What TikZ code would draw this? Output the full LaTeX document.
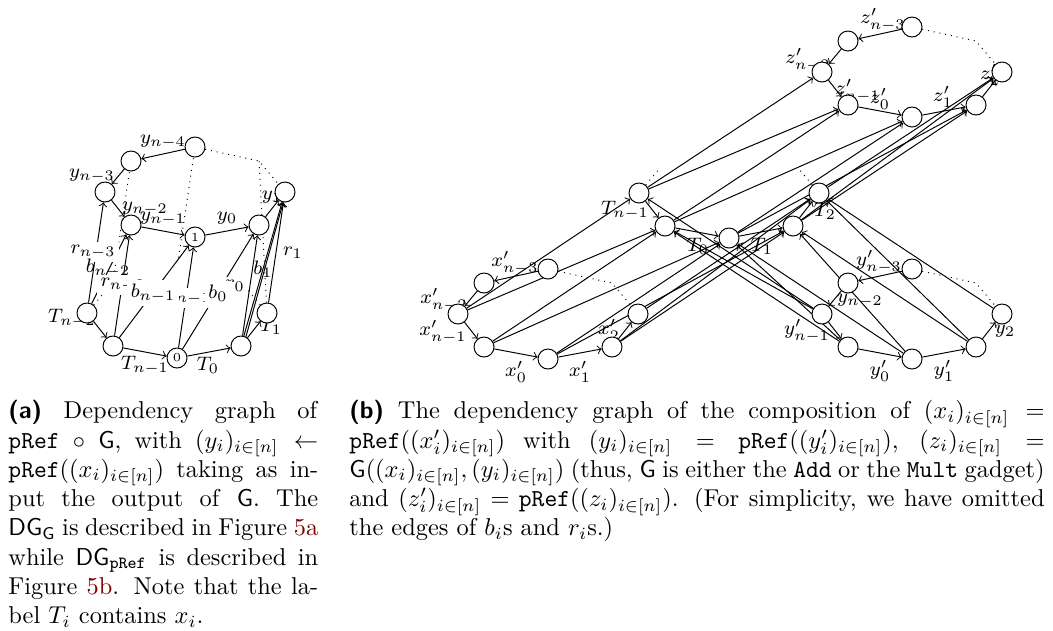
\documentclass[tikz,border=0pt]{standalone}
\usepackage{amsmath}
\definecolor{linkred}{rgb}{0.5,0,0}
\pgfdeclarelayer{fg}
\pgfsetlayers{main,fg}
\tikzset{
  vtx/.style={circle,draw,fill=white,minimum size=8.2pt,inner sep=0pt},
  ghost/.style={circle,minimum size=8.2pt,inner sep=0pt},
  lbl/.style={font=\footnotesize,inner sep=1pt},
  wlbl/.style={lbl,fill=white,inner sep=1.5pt},
  arr/.style={->},
  hid/.style={dotted}
}
\begin{document}
\begin{tikzpicture}[x=0.41pt,y=-0.41pt]
\useasboundingbox (0,0) rectangle (1053,630);

% ---------- nodes (foreground) ----------
\begin{pgfonlayer}{fg}
% (a) y ring, centre (195,192)
\node[vtx] (ay-t)  at (195,147) {};
\node[vtx] (ay-tl) at (131,161) {};
\node[vtx] (ay-l)  at (105,192) {};
\node[vtx] (ay-bl) at (131,225) {};
\node[vtx,font=\tiny] (ay-b) at (195,237) {1};
\node[vtx] (ay-br) at (259,225) {};
\node[vtx] (ay-r)  at (285,192) {};
% (a) T ring, centre (177,313)
\node[vtx] (aT-l)  at (87,313) {};
\node[vtx] (aT-bl) at (113,346) {};
\node[vtx,font=\tiny] (aT-b) at (177,358) {0};
\node[vtx] (aT-br) at (241,346) {};
\node[vtx] (aT-r)  at (267,313) {};
% (b) x' ring, centre (548,314)
\node[vtx] (bx-t)  at (548,269) {};
\node[vtx] (bx-tl) at (484,283) {};
\node[vtx] (bx-l)  at (458,314) {};
\node[vtx] (bx-bl) at (484,347) {};
\node[vtx] (bx-b)  at (548,359) {};
\node[vtx] (bx-br) at (612,347) {};
\node[vtx] (bx-r)  at (638,314) {};
% (b) T ring, centre (729,193)
\node[vtx] (bT-l)  at (639,193) {};
\node[vtx] (bT-bl) at (665,226) {};
\node[vtx] (bT-b)  at (729,238) {};
\node[vtx] (bT-br) at (793,226) {};
\node[vtx] (bT-r)  at (819,193) {};
% (b) y' ring, centre (912,314)
\node[vtx] (by-t)  at (912,269) {};
\node[vtx] (by-tl) at (848,283) {};
\node[vtx] (by-l)  at (822,314) {};
\node[vtx] (by-bl) at (848,347) {};
\node[vtx] (by-b)  at (912,359) {};
\node[vtx] (by-br) at (976,347) {};
\node[vtx] (by-r)  at (1002,314) {};
% (b) z' ring, centre (912,72)
\node[vtx] (bz-t)  at (912,27) {};
\node[vtx] (bz-tl) at (848,41) {};
\node[vtx] (bz-l)  at (822,72) {};
\node[vtx] (bz-bl) at (848,105) {};
\node[vtx] (bz-b)  at (912,117) {};
\node[vtx] (bz-br) at (976,105) {};
\node[vtx] (bz-r)  at (1002,72) {};
\end{pgfonlayer}

% hidden positions
\coordinate (ay-tr) at (259,161);
\coordinate (bx-tr) at (612,283);
\coordinate (by-tr) at (976,283);
\coordinate (bz-tr) at (976,41);
\node[ghost] (aT-tl) at (113,282) {};
\node[ghost] (aT-t)  at (177,268) {};
\node[ghost] (aT-tr) at (241,282) {};
\node[ghost] (bT-tl) at (665,162) {};
\node[ghost] (bT-tr) at (793,162) {};

% ---------- rings ----------
\foreach \g in {ay,bx,by,bz}{
  \draw[arr] (\g-t) -- (\g-tl);
  \draw[arr] (\g-tl) -- (\g-l);
  \draw[arr] (\g-l) -- (\g-bl);
  \draw[arr] (\g-bl) -- (\g-b);
  \draw[arr] (\g-b) -- (\g-br);
  \draw[arr] (\g-br) -- (\g-r);
  \draw[hid] (\g-t) -- (\g-tr) -- (\g-r);
}
\foreach \g in {aT,bT}{
  \draw[arr] (\g-l) -- (\g-bl);
  \draw[arr] (\g-bl) -- (\g-b);
  \draw[arr] (\g-b) -- (\g-br);
  \draw[arr] (\g-br) -- (\g-r);
  \draw[hid] (\g-l) -- (\g-tl);
  \draw[hid] (\g-r) -- (\g-tr);
}

% ---------- gadget edges ----------
\foreach \src/\dst in {aT/ay,bx/bT,by/bT,bT/bz}{
  \draw[arr] (\src-l) -- (\dst-l);
  \draw[arr] (\src-l) -- (\dst-bl);
  \draw[arr] (\src-bl) -- (\dst-bl);
  \draw[arr] (\src-bl) -- (\dst-b);
  \draw[arr] (\src-b) -- (\dst-b);
  \draw[arr] (\src-b) -- (\dst-br);
  \draw[arr] (\src-br) -- (\dst-br);
  \draw[arr] (\src-br) -- (\dst-r);
  \draw[arr] (\src-r) -- (\dst-r);
}
\draw[arr] (aT-br.62) -- (ay-r.-100);
% hidden edges of (a)
\draw[hid] (aT-tl) -- (ay-tl);
\draw[hid] (aT-t) -- (ay-t);
\draw[hid] (aT-r) -- (ay-tr);

% ---------- labels (a) ----------
\node[lbl] (la1) at (163,142) {$y_{n-4}$};
\node[lbl] (la2) at (92,176) {$y_{n-3}$};
\node[lbl] (la3) at (145,209) {$y_{n-2}$};
\node[lbl] (la4) at (163,219) {$y_{n-1}$};
\node[lbl] (la5) at (227,218) {$y_0$};
\node[lbl] (la6) at (272,197) {$y_1$};
\node[lbl] (la7) at (72,318) {$T_{n-2}$};
\node[lbl] (la8) at (145,365) {$T_{n-1}$};
\node[lbl] (la9) at (208,365) {$T_0$};
\node[lbl] (la10) at (271,326) {$T_1$};
\node[wlbl] (ea1) at (93,252) {$r_{n-3}$};
\node[lbl]  (ea2) at (108,268) {$b_{n-2}$};
\node[wlbl] (ea3) at (123,285) {$r_{n-2}$};
\node[wlbl] (ea4) at (189,298) {$r_{n-1}$};
\node[wlbl] (ea5) at (235,286) {$r_0$};
\node[wlbl] (ea6) at (153,293) {$b_{n-1}$};
\node[wlbl] (ea7) at (218,293) {$b_0$};
\node[lbl]  (ea8) at (263,269) {$b_1$};
\node[lbl]  (ea9) at (293,253) {$r_1$};

% ---------- labels (b) ----------
\node[lbl] (lx1) at (515,263) {$x'_{n-3}$};
\node[lbl] (lx2) at (444,300) {$x'_{n-2}$};
\node[lbl] (lx3) at (443,332) {$x'_{n-1}$};
\node[lbl] (lx4) at (516,372) {$x'_0$};
\node[lbl] (lx5) at (580,372) {$x'_1$};
\node[lbl] (lx6) at (609,330) {$x'_2$};
\node[lbl] (lt1) at (625,210) {$T_{n-1}$};
\node[lbl] (lt2) at (698,246) {$T_0$};
\node[lbl] (lt3) at (762,246) {$T_1$};
\node[lbl] (lt4) at (825,211) {$T_2$};
\node[lbl] (ly1) at (879,262) {$y'_{n-3}$};
\node[lbl] (ly2) at (860,301) {$y_{n-2}$};
\node[lbl] (ly3) at (807,331) {$y'_{n-1}$};
\node[lbl] (ly4) at (880,371) {$y'_0$};
\node[lbl] (ly5) at (944,371) {$y'_1$};
\node[lbl] (ly6) at (1005,331) {$y_2$};
\node[lbl] (lz1) at (883,20) {$z'_{n-3}$};
\node[lbl] (lz2) at (808,60) {$z'_{n-2}$};
\node[lbl] (lz3) at (858,91) {$z'_{n-1}$};
\node[lbl] (lz4) at (880,99) {$z'_0$};
\node[lbl] (lz5) at (943,97) {$z'_1$};
\node[lbl] (lz6) at (990,75) {$z'_2$};

% ---------- captions ----------
\node[anchor=north west,inner sep=0pt] (capa) at (8,400) {%
\begin{minipage}[t]{127pt}\parindent=0pt
\textsf{\textbf{(a)}} Dependency graph of\linebreak
\texttt{pRef} $\circ$ \textsf{G}, with $(y_i)_{i\in[n]}\leftarrow$\linebreak
\texttt{pRef}$((x_i)_{i\in[n]})$ taking as in-\linebreak
put the output of \textsf{G}. The\linebreak
$\textsf{DG}_{\textsf{G}}$ is described in Figure \textcolor{linkred}{5a}\linebreak
while $\textsf{DG}_{\texttt{pRef}}$ is described in\linebreak
Figure \textcolor{linkred}{5b}. Note that the la-\linebreak
bel $T_i$ contains $x_i$.
\end{minipage}};
\node[anchor=north west,inner sep=0pt] (capb) at (349,400) {%
\begin{minipage}[t]{285pt}\parindent=0pt
\textsf{\textbf{(b)}} The dependency graph of the composition of $(x_i)_{i\in[n]} =$\linebreak
\texttt{pRef}$((x'_i)_{i\in[n]})$ with $(y_i)_{i\in[n]} = \texttt{pRef}((y'_i)_{i\in[n]})$, $(z_i)_{i\in[n]} =$\linebreak
\textsf{G}$((x_i)_{i\in[n]},(y_i)_{i\in[n]})$ (thus, \textsf{G} is either the \texttt{Add} or the \texttt{Mult} gadget)\linebreak
and $(z'_i)_{i\in[n]} = \texttt{pRef}((z_i)_{i\in[n]})$. (For simplicity, we have omitted\linebreak
the edges of $b_i$s and $r_i$s.)
\end{minipage}};
\end{tikzpicture}
\end{document}
